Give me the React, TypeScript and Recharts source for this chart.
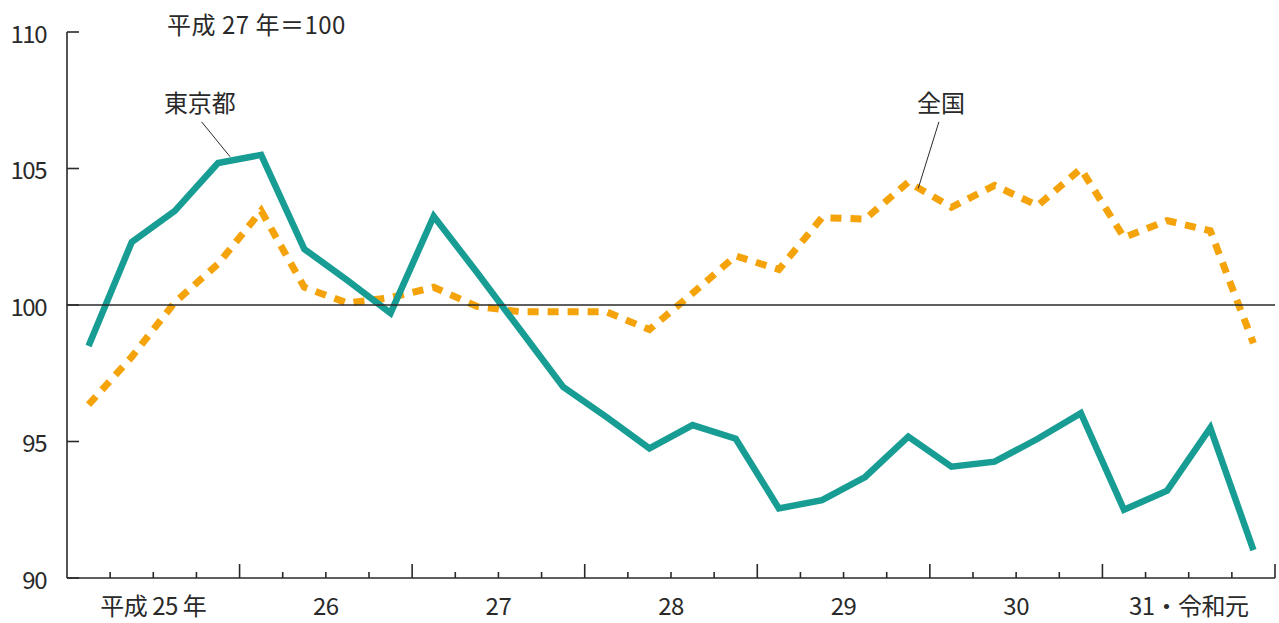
import React from 'react';
import { LineChart, Line, XAxis, YAxis, ReferenceLine, ReferenceDot } from 'recharts';

const yearLabels = ['平成 25 年', '26', '27', '28', '29', '30', '31・令和元'];
const yTicks = [90, 95, 100, 105, 110];
const tokyo = [98.5, 102.3, 103.45, 105.2, 105.5, 102.05, 100.9, 99.7, 103.25, 101.2, 99.1, 97.0, 95.9, 94.75, 95.6, 95.1, 92.55, 92.85, 93.7, 95.18, 94.08, 94.26, 95.1, 96.04, 92.5, 93.2, 95.5, 91.02];
const national = [96.35, 98.1, 100.1, 101.5, 103.45, 100.65, 100.07, 100.27, 100.65, 99.95, 99.75, 99.75, 99.75, 99.1, 100.43, 101.8, 101.3, 103.2, 103.15, 104.5, 103.58, 104.38, 103.64, 104.99, 102.47, 103.09, 102.72, 98.6];

const quartersPerYear = 4;
const quarterCount = tokyo.length;
const xTicks = Array.from({ length: quarterCount + 1 }, (_, i) => i);
const data = tokyo.map((v, i) => ({ x: i + 0.5, tokyo: v, national: national[i] }));

const FONT = '"Noto Sans CJK JP", "Noto Sans", sans-serif';
const INK = '#2a2a2a';
const TEAL = '#179d93';
const ORANGE = '#f4a30a';

const XTick = (props: any) => {
  const { x, y, payload } = props;
  const v = payload.value as number;
  const big = v % quartersPerYear === 0;
  const isLabel = v % quartersPerYear === 2;
  return (
    <g>
      {v > 0 && (
        <line x1={x} x2={x} y1={y} y2={y - (big ? 14 : 6)} stroke={INK} strokeWidth={1.6} />
      )}
      {isLabel && (
        <text x={x} y={y + 37} textAnchor="middle" fontSize={24} fill={INK} fontFamily={FONT} letterSpacing={-0.5}>
          {yearLabels[Math.floor(v / quartersPerYear)]}
        </text>
      )}
    </g>
  );
};

const YTick = (props: any) => {
  const { x, y, payload } = props;
  return (
    <g>
      <line x1={x} x2={x + 12} y1={y} y2={y} stroke={INK} strokeWidth={1.6} />
      <text x={x - 21} y={y} textAnchor="end" dominantBaseline="central" fontSize={24} fill={INK} fontFamily={FONT} letterSpacing={-1.5}>
        {payload.value}
      </text>
    </g>
  );
};

export default function App() {
  return (
    <div style={{ position: 'absolute', left: 0, top: 0, width: 1279, height: 623, background: '#fff' }}>
      <div
        style={{
          position: 'absolute',
          left: 167,
          top: 9,
          fontSize: 24,
          lineHeight: '30px',
          fontFamily: FONT,
          color: INK,
          letterSpacing: 0.5,
          whiteSpace: 'nowrap',
        }}
      >
        平成 27 年＝100
      </div>
      <LineChart width={1279} height={623} data={data} margin={{ top: 32, right: 4, left: 0, bottom: 0 }}>
        <XAxis
          dataKey="x"
          type="number"
          domain={[0, quarterCount]}
          ticks={xTicks}
          interval={0}
          height={45}
          tickSize={0}
          tickMargin={0}
          tickLine={false}
          axisLine={{ stroke: INK, strokeWidth: 1.6 }}
          tick={<XTick />}
        />
        <YAxis
          type="number"
          domain={[90, 110]}
          ticks={yTicks}
          interval={0}
          width={67}
          tickSize={0}
          tickMargin={0}
          tickLine={false}
          axisLine={{ stroke: INK, strokeWidth: 1.6 }}
          tick={<YTick />}
        />
        <Line
          dataKey="national"
          stroke={ORANGE}
          strokeWidth={7}
          strokeDasharray="11 9"
          strokeLinejoin="miter"
          dot={false}
          activeDot={false}
          isAnimationActive={false}
        />
        <Line
          dataKey="tokyo"
          stroke={TEAL}
          strokeWidth={6.5}
          strokeLinejoin="miter"
          dot={false}
          activeDot={false}
          isAnimationActive={false}
        />
        <ReferenceLine y={100} stroke={INK} strokeWidth={1.6} />
        <ReferenceLine
          segment={[{ x: 3.12, y: 106.71 }, { x: 3.78, y: 105.43 }]}
          stroke={INK}
          strokeWidth={1}
          ifOverflow="visible"
        />
        <ReferenceLine
          segment={[{ x: 20.21, y: 106.71 }, { x: 19.73, y: 104.27 }]}
          stroke={INK}
          strokeWidth={1}
          ifOverflow="visible"
        />
        <ReferenceDot
          x={3.08}
          y={107.4}
          r={0}
          fill="none"
          stroke="none"
          ifOverflow="visible"
          label={{ value: '東京都', position: 'center', fontSize: 24, fill: INK, fontFamily: FONT }}
        />
        <ReferenceDot
          x={20.26}
          y={107.4}
          r={0}
          fill="none"
          stroke="none"
          ifOverflow="visible"
          label={{ value: '全国', position: 'center', fontSize: 24, fill: INK, fontFamily: FONT }}
        />
      </LineChart>
    </div>
  );
}
